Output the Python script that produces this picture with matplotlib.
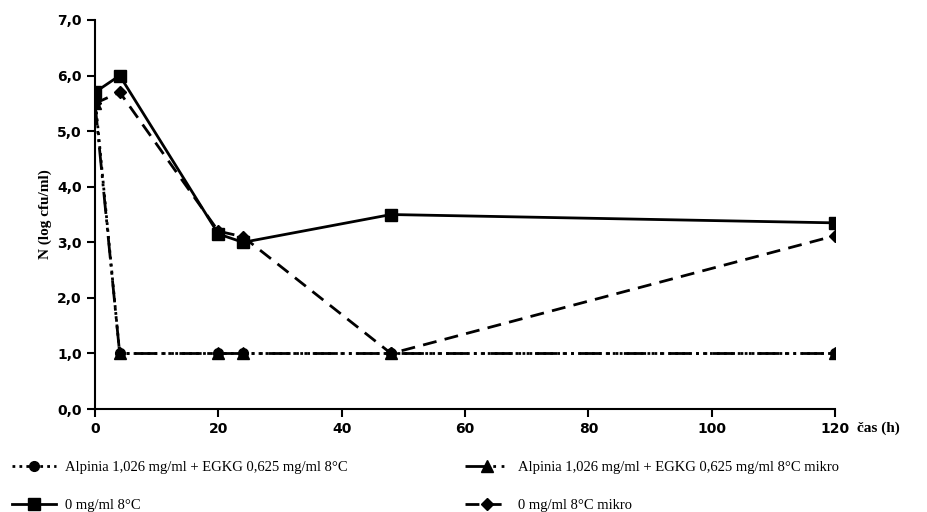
import matplotlib
matplotlib.use("Agg")
import matplotlib.pyplot as plt
from matplotlib.ticker import FuncFormatter

time_h = [0, 4, 20, 24, 48, 120]
alpinia = [5.6, 1.0, 1.0, 1.0, 1.0, 1.0]
alpinia_mikro = [5.5, 1.0, 1.0, 1.0, 1.0, 1.0]
control = [5.7, 6.0, 3.15, 3.0, 3.5, 3.35]
control_mikro = [5.5, 5.7, 3.2, 3.1, 1.0, 3.12]

labels = ["Alpinia 1,026 mg/ml + EGKG 0,625 mg/ml 8°C",
          "Alpinia 1,026 mg/ml + EGKG 0,625 mg/ml 8°C mikro",
          "0 mg/ml 8°C",
          "0 mg/ml 8°C mikro"]

fig = plt.figure(figsize=(9.27, 5.12), dpi=100)
ax = fig.add_axes([0.1025, 0.201, 0.7985, 0.76])

h1, = ax.plot(time_h, alpinia, color="black", linestyle=(0, (1, 1.5)), linewidth=2,
              marker="o", markersize=7, label=labels[0])
h2, = ax.plot(time_h, alpinia_mikro, color="black", linestyle=(0, (8, 2, 1, 2, 1, 2)), linewidth=2,
              marker="^", markersize=8, label=labels[1])
h3, = ax.plot(time_h, control, color="black", linestyle="-", linewidth=2,
              marker="s", markersize=8, label=labels[2])
h4, = ax.plot(time_h, control_mikro, color="black", linestyle=(0, (5, 3)), linewidth=2,
              marker="D", markersize=6, label=labels[3])

ax.set_xlim(0, 120)
ax.set_ylim(0, 7)
ax.set_xticks(range(0, 121, 20))
ax.set_yticks(range(0, 8))
ax.yaxis.set_major_formatter(FuncFormatter(lambda v, p: f"{v:.1f}".replace(".", ",")))
ax.spines["top"].set_visible(False)
ax.spines["right"].set_visible(False)
for s in ["left", "bottom"]:
    ax.spines[s].set_linewidth(1.5)
ax.tick_params(direction="out", length=6, width=1.5, labelsize=10)
for t in ax.get_yticklabels() + ax.get_xticklabels():
    t.set_fontweight("bold")
ax.set_ylabel("N (log cfu/ml)", fontsize=11, fontweight="bold", fontfamily="Liberation Serif")
ax.text(1.03, -0.05, "čas (h)", transform=ax.transAxes, fontsize=11,
        fontfamily="Liberation Serif", fontweight="bold", va="center", ha="left")

# column-major order so rows read: Alpinia | Alpinia mikro ; control | control mikro
handles = [h1, h3, h2, h4]
leg_labels = [labels[0], labels[2], labels[1], labels[3]]
fig.legend(handles, leg_labels, loc="center left", bbox_to_anchor=(0.013, 0.05), ncol=2,
           frameon=False, prop={"family": "Liberation Serif", "size": 10.5},
           handlelength=3, columnspacing=8.1, handletextpad=0.6, labelspacing=1.67,
           borderaxespad=0, borderpad=0)

fig.savefig("out.png", dpi=100)
